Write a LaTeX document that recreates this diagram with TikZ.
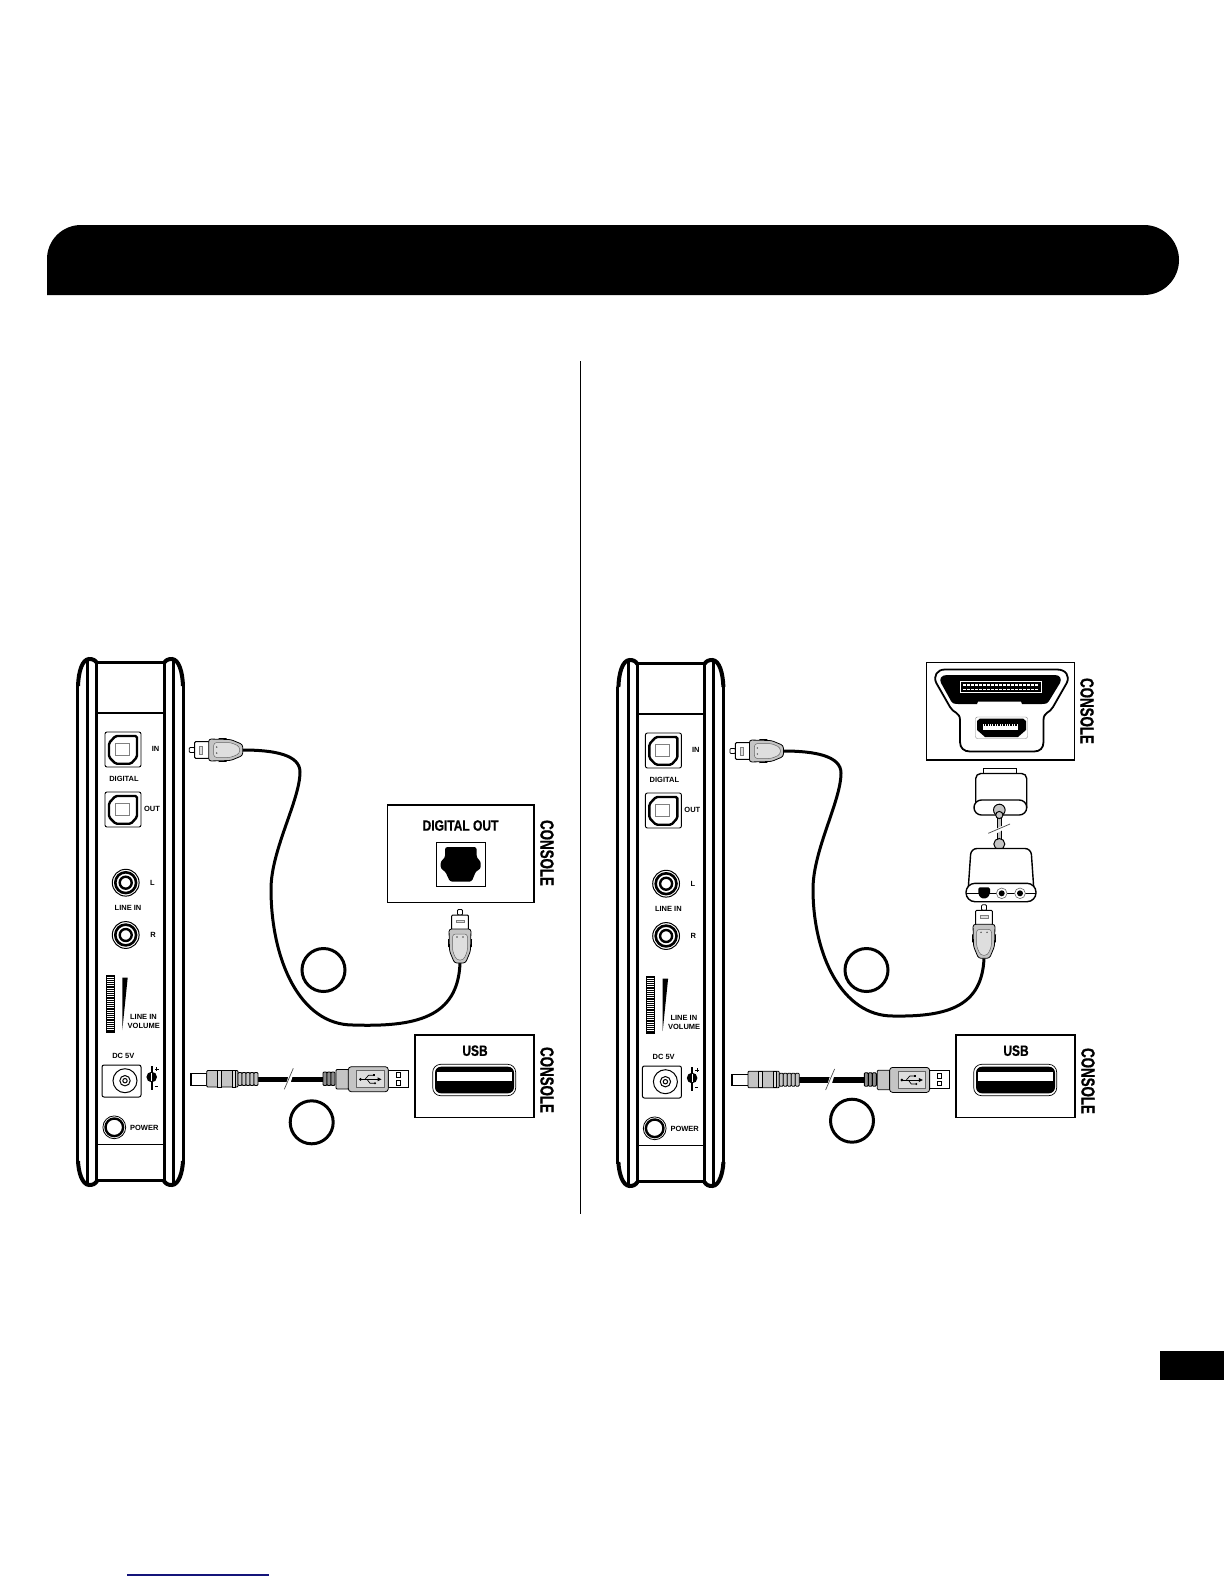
\documentclass[tikz,border=0pt]{standalone}
\usepackage{fontspec}
\usepackage{tikz}
\usetikzlibrary{positioning,calc}
\setmainfont{Liberation Sans}
\newfontfamily\condfont[FakeStretch=0.8,BoldFeatures={FakeBold=0.6}]{Liberation Sans}
\newfontfamily\consolefont[FakeStretch=0.7,BoldFeatures={FakeBold=0.8}]{Liberation Sans}
\definecolor{PlugGray}{HTML}{C4C4C4}
\definecolor{PlugLight}{HTML}{DEDEDE}
\definecolor{LinkNavy}{HTML}{14147A}

% optical socket on the back panel, #1 = top left corner
\newcommand{\OptPort}[1]{
  \begin{scope}[shift={(#1)}]
    \draw[line width=0.9pt,rounded corners=2pt] (0,0) rectangle (36,35);
    \draw[line width=2.4pt,rounded corners=1.5pt] (10.5,4) -- (32,4) -- (32,25) -- (26,31.7)
      -- (10.5,31.7) -- (4,25) -- (4,11) -- cycle;
    \draw[black!50,line width=0.7pt] (10,11.7) rectangle (24.3,23.3);
  \end{scope}
}
% round line-in socket
\newcommand{\JackPort}[1]{
  \draw[line width=1pt] (#1) circle (13.4);
  \draw[line width=2.6pt] (#1) circle (10.4);
  \draw[line width=2.4pt] (#1) circle (6);
}
% toslink plug, #1 = cable end, #2 = turn; drawn pointing left
\newcommand{\ToslinkPlug}[2]{
  \begin{scope}[shift={(#1)},rotate=#2]
    \draw[line width=0.8pt,fill=white,rounded corners=1pt] (-53.5,-2.5) rectangle (-48,2.5);
    \draw[line width=1pt,fill=white,rounded corners=1pt] (-48,-8.3) rectangle (-33,8.3);
    \draw[black!50,line width=0.6pt,fill=PlugLight] (-43,-4) rectangle (-40.3,4);
    \draw[line width=0.8pt,fill=PlugGray,rounded corners=2.5pt] (-34,-11) -- (-12,-10.5) -- (0,-5.5)
      -- (0,5.5) -- (-12,10.5) -- (-34,11) -- cycle;
    \draw[black!60,line width=0.5pt,fill=PlugLight,rounded corners=3pt] (-29,-7.5) -- (-12,-7.5) -- (-3,-3.5)
      -- (-3,3.5) -- (-12,7.5) -- (-29,7.5) -- cycle;
    \fill[black!70] (-26,-3) circle (0.8) (-26,3) circle (0.8);
    \draw[line width=0.8pt] (-24,-11.6) -- (-16,-11.4) (-24,11.6) -- (-16,11.4);
  \end{scope}
}
% back of the unit, #1 = prefix of names, #2 #3 = shift
\newcommand{\UnitBack}[3]{
  \begin{scope}[shift={(#2,#3)}]
    \foreach \sx/\sk in {0/1,261/-1}{
      \begin{scope}[xshift=\sx pt,xscale=\sk]
        \draw[line width=3pt] (77.5,1163) -- (77.5,686);
        \draw[line width=4pt] (78,686) .. controls (78.5,672) and (82,659.5) .. (89,659)
          .. controls (93,659) and (95,660) .. (97,663);
        \draw[line width=4pt] (78,1161) .. controls (78.5,1172) and (82,1184.5) .. (89,1185)
          .. controls (93,1185) and (95,1184) .. (97,1181);
        \draw[line width=3pt] (87.7,661) -- (87.7,1183);
        \draw[line width=3pt] (96.7,662) -- (96.7,1182);
      \end{scope}
    }
    \draw[line width=3.2pt] (96.7,662.5) -- (164.3,662.5);
    \draw[line width=3.2pt] (96.7,1180.5) -- (164.3,1180.5);
    \draw[line width=1.4pt] (97,713) -- (164,713);
    \draw[line width=1pt] (97,1144) -- (164,1144);
    \OptPort{105,732}
    \OptPort{105,792}
    \JackPort{125.7,882.7}
    \JackPort{125.7,935}
    \node[lab] (#1in) at (155.5,749) {IN};
    \node[lab] (#1digital) at (124,778.5) {DIGITAL};
    \node[lab] (#1out) at (152,809) {OUT};
    \node[lab] (#1l) at (152.5,883) {L};
    \node[lab] (#1linein) at (128,908) {LINE IN};
    \node[lab] (#1r) at (153,934.5) {R};
    % volume wheel and wedge
    \fill (105.7,975) rectangle (115,1032.7);
    \foreach \ty in {977,979.2,...,1030}{
      \draw[white,line width=1pt] (107,\ty) -- (113.7,\ty);
    }
    \fill (122.3,977.7) -- (127.7,977.7) -- (122.3,1030) -- cycle;
    \node[lab,anchor=east] (#1vola) at (157,1017) {LINE IN};
    \node[lab,anchor=east] (#1volb) at (160,1026) {VOLUME};
    \node[lab] (#1dc) at (123.3,1056) {DC 5V};
    \draw[line width=1pt,rounded corners=2pt] (102,1065) rectangle (141,1097);
    \draw[line width=1pt] (125,1080.7) circle (12);
    \draw[line width=1pt] (125,1080.7) circle (5.2);
    \draw[line width=1pt] (125,1080.7) circle (2.2);
    \draw[line width=2pt] (151.7,1066) -- (151.7,1090);
    \fill (151.7,1077) circle (5.3);
    \draw[white,line width=0.8pt] (151.7,1073) -- (151.7,1081);
    \draw[line width=0.7pt] (155,1069) -- (158.5,1069) (156.7,1067.2) -- (156.7,1070.8);
    \draw[line width=0.8pt] (154.5,1086) -- (158,1086);
    \draw[line width=0.8pt] (114.3,1127.3) circle (11.4);
    \draw[line width=2.4pt] (114.3,1127.3) circle (8.8);
    \node[lab] (#1power) at (144.3,1127.7) {POWER};
  \end{scope}
}
% usb power lead with its break mark
\newcommand{\UsbLead}[3]{
  \begin{scope}[shift={(#2,#3)}]
    \coordinate (#1dcend) at (256,1079.5);
    \coordinate (#1usbend) at (324,1079.5);
    \draw[line width=5.5pt] (#1dcend) -- (#1usbend);
    \draw[white,line width=4pt] (287.5,1086) -- (291.5,1073);
    \draw[black!70,line width=0.7pt] (284.3,1089.3) -- (293.3,1068.3);
    % dc plug
    \draw[line width=0.8pt,fill=white] (190,1073.5) rectangle (206.7,1085);
    \fill (190,1073.5) rectangle (191.8,1085);
    \draw[line width=0.8pt,fill=PlugGray,rounded corners=1pt] (206.7,1070.5) rectangle (238,1087);
    \draw[line width=0.8pt,fill=PlugLight] (217,1070.5) rectangle (221,1087);
    \draw[line width=0.8pt,fill=PlugLight] (232,1070.5) rectangle (235,1087);
    \foreach \rx in {238,242,246,250,254}{
      \draw[line width=0.8pt,fill=PlugGray,rounded corners=1pt] (\rx,1072.5) rectangle (\rx+4,1085.5);
    }
    % usb plug
    \draw[line width=0.8pt,fill=white] (388.3,1070) rectangle (408.3,1087.7);
    \draw[line width=0.6pt] (396,1072.7) rectangle (400,1077.3);
    \draw[line width=0.6pt] (396,1080.7) rectangle (400,1085);
    \foreach \rx in {323,327,331}{
      \draw[line width=0.9pt,fill=black!45,rounded corners=1pt] (\rx,1072) rectangle (\rx+4,1085.5);
    }
    \draw[line width=0.8pt,fill=PlugGray,rounded corners=1pt] (336,1069.5) rectangle (349,1089);
    \draw[line width=0.8pt,fill=PlugGray,rounded corners=3pt] (348.3,1066.7) rectangle (388.3,1091.7);
    \draw[black!60,line width=0.5pt,fill=PlugLight] (356.7,1070.7) rectangle (384,1087.3);
    \draw[line width=0.9pt] (360,1079.3) -- (379,1079.3);
    \fill (360.5,1079.3) circle (1.5);
    \fill (381.5,1079.3) -- (377.5,1077.3) -- (377.5,1081.3) -- cycle;
    \draw[line width=0.7pt] (365,1079.3) -- (368.5,1075.3) -- (373,1075.3);
    \draw[line width=0.7pt] (367,1079.3) -- (370,1083.3) -- (374,1083.3);
    \fill (373,1074.2) rectangle (375,1076.4);
    \fill (375,1083.3) circle (1.1);
  \end{scope}
}
% usb socket box, #1 = prefix, #2 = shift in x
\newcommand{\UsbBox}[2]{
  \begin{scope}[xshift=#2 pt]
    \node[boxed,minimum width=119pt,minimum height=82.7pt] (#1usbbox) at (474.5,1076.3) {};
    \node[headline] (#1usblabel) at (475,1050.7) {USB};
    \draw[line width=0.7pt,rounded corners=8pt] (432.7,1064.3) rectangle (515.7,1095.7);
    \fill[rounded corners=6pt] (435,1066.7) rectangle (514,1093.3);
    \fill[white] (436.7,1071.7) rectangle (512.3,1081);
  \end{scope}
}
\begin{document}
\begin{tikzpicture}[
  x=1pt,y=-1pt,
  lab/.style={font=\bfseries\fontsize{7.5}{8}\selectfont,inner sep=0pt},
  boxed/.style={draw=black,line width=1.5pt,fill=white,inner sep=0pt},
  headline/.style={font=\condfont\bfseries\fontsize{15}{16}\selectfont,inner sep=0pt},
  console/.style={font=\consolefont\bfseries\fontsize{19}{20}\selectfont,inner sep=0pt,rotate=-90},
  callout/.style={circle,draw=black,line width=3pt,minimum size=43pt,inner sep=0pt},
  cable/.style={line width=3pt,draw=black}
]
\useasboundingbox (0,0) rectangle (1224,1584);

% Heading band, divider, page tab and link line
\fill (47,295) -- (47,259) arc[start angle=180,end angle=90,x radius=34,y radius=-34]
  -- (1144,225) arc[start angle=90,end angle=-90,x radius=35,y radius=-35] -- cycle;
\draw[line width=1pt] (580.5,361) -- (580.5,1214);
\fill (1160,1351) rectangle (1224,1380);
\draw[LinkNavy,line width=1.3pt] (127,1575) -- (269,1575);

% Left panel
\UnitBack{lft}{0}{0}
\coordinate (lftplugtop) at (242.7,750);
\coordinate (lftplugend) at (460,963);
\draw[cable] (lftplugtop) .. controls (275,750) and (300,755) .. (300,772)
  .. controls (300,800) and (271,850) .. (271,889)
  .. controls (271,960) and (300,1025) .. (353,1025)
  .. controls (415,1027) and (458,1018) .. (lftplugend);
\ToslinkPlug{lftplugtop}{0}
\ToslinkPlug{lftplugend}{-90}
\node[boxed,minimum width=146.7pt,minimum height=97.3pt] (lftdigbox) at (460.7,853.7) {};
\node[headline] (lftdiglabel) at (460.5,825.5) {DIGITAL OUT};
\draw[line width=1pt] (436,842.3) rectangle (485.7,886.7);
\fill[rounded corners=2.5pt] (445,847) -- (476.7,847) -- (476.7,858) -- (480.7,861) -- (480.7,869)
  -- (476,871) -- (471.7,881.7) -- (450,881.7) -- (445,871) -- (440.7,869) -- (440.7,861) -- (445,858) -- cycle;
\node[console] (lftconsolea) at (547,853) {CONSOLE};
\UsbLead{lft}{0}{0}
\UsbBox{lft}{0}
\node[console] (lftconsoleb) at (547,1080) {CONSOLE};
\node[callout] (lftnumb) at (323.5,970) {};
\node[callout] (lftnuma) at (311.7,1122.3) {};

% Right panel
\UnitBack{rgt}{540.4}{1}
\coordinate (rgtplugtop) at (783.4,751);
\coordinate (rgtplugend) at (984,958.3);
\draw[cable] (rgtplugtop) .. controls (815,751) and (841,756) .. (841,773)
  .. controls (841,801) and (813,850) .. (813,889)
  .. controls (813,955) and (842,1016) .. (893,1016)
  .. controls (950,1017) and (982,1005) .. (rgtplugend);
\ToslinkPlug{rgtplugtop}{0}
\ToslinkPlug{rgtplugend}{-90}
% console connector
\node[boxed,minimum width=147.6pt,minimum height=97.7pt] (rgtgamebox) at (1000.5,711.2) {};
\draw[line width=1.8pt] (945,669.5) -- (1057,669.5) .. controls (1066,669.5) and (1070,676) .. (1066.7,683)
  -- (1053,707) .. controls (1050,713) and (1043.5,712) .. (1043.5,720) -- (1043.5,742)
  .. controls (1043.5,748) and (1040,751.5) .. (1034,751.5) -- (970,751.5)
  .. controls (964,751.5) and (960,748) .. (960,742) -- (960,720)
  .. controls (960,712) and (953,713) .. (950,707) -- (936.3,683)
  .. controls (933,676) and (937,669.5) .. (945,669.5) -- cycle;
\fill (947,675) -- (1055,675) .. controls (1060,675) and (1062,679) .. (1060,683)
  -- (1049,701) .. controls (1047,704) and (1045,704) .. (1042,704) -- (1022,704) -- (1021,701.5)
  -- (978,701.5) -- (977,704) -- (958,704) .. controls (955,704) and (953,704) .. (951,701)
  -- (941,683) .. controls (939,679) and (941,675) .. (947,675) -- cycle;
\draw[white,line width=0.8pt] (960.7,681.7) rectangle (1041.7,692.7);
\draw[white,line width=1.6pt,dash pattern=on 2.5pt off 1.5pt] (963,685) -- (1039,685) (963,689.3) -- (1039,689.3);
\draw[black!50,line width=0.4pt,rounded corners=2pt] (975.5,717) rectangle (1027.5,738.5);
\fill (980,718.5) -- (1023,718.5) -- (1026,721) -- (1026,730) -- (1018,737) -- (985,737) -- (977,730) -- (977,721) -- cycle;
\fill[white] (983.3,724) rectangle (1018.3,730);
\draw[line width=1.2pt,dash pattern=on 1pt off 0.7pt] (984,725) -- (1018,725);
\node[console] (rgtconsolea) at (1087,711) {CONSOLE};
% adapter
\draw[line width=1.2pt,fill=white] (983.3,768.3) rectangle (1016.7,774);
\draw[line width=1.4pt,fill=white,rounded corners=5pt] (975.7,808) -- (975.7,773.5) -- (1026.7,773.5) -- (1026.7,808);
\draw[line width=1.4pt,fill=white,rounded corners=7.4pt] (974,800) rectangle (1026.7,815);
\coordinate (rgtleadtop) at (999.3,812);
\coordinate (rgtleadend) at (999.3,846);
\draw[line width=5.5pt] (rgtleadtop) -- (rgtleadend);
\draw[PlugGray,line width=3pt] (rgtleadtop) -- (rgtleadend);
\draw[line width=1pt,fill=PlugGray] (999.3,810) circle (5.8);
\draw[line width=1pt,fill=PlugGray] (999.3,815) circle (3.6);
\draw[line width=1pt,fill=PlugGray] (999.3,844) circle (5.5);
\draw[white,line width=4pt] (993,833) -- (1005,826.5);
\draw[black!70,line width=0.7pt] (988.3,833.3) -- (1010,824);
\draw[line width=1.4pt,fill=white,rounded corners=6pt] (968,892) -- (971,848.5) -- (1031,848.5) -- (1034,892);
\draw[line width=1.4pt,fill=white,rounded corners=9pt] (966,883.3) rectangle (1036,901.7);
\draw[line width=0.6pt] (967,893.3) -- (1035,893.3);
\fill[rounded corners=1.5pt] (978.3,887.3) -- (990,887.3) -- (990,894) -- (987,898.3) -- (981,898.3) -- (978.3,894) -- cycle;
\foreach \jx in {1001.7,1020}{
  \draw[black!60,line width=0.6pt,fill=white] (\jx,893.3) circle (5.3);
  \fill (\jx,893.3) circle (3);
}
\UsbLead{rgt}{541.3}{0.7}
\UsbBox{rgt}{541}
\node[console] (rgtconsoleb) at (1088,1081) {CONSOLE};
\node[callout] (rgtnumb) at (866.5,970) {};
\node[callout] (rgtnuma) at (852,1120.7) {};
\end{tikzpicture}
\end{document}
